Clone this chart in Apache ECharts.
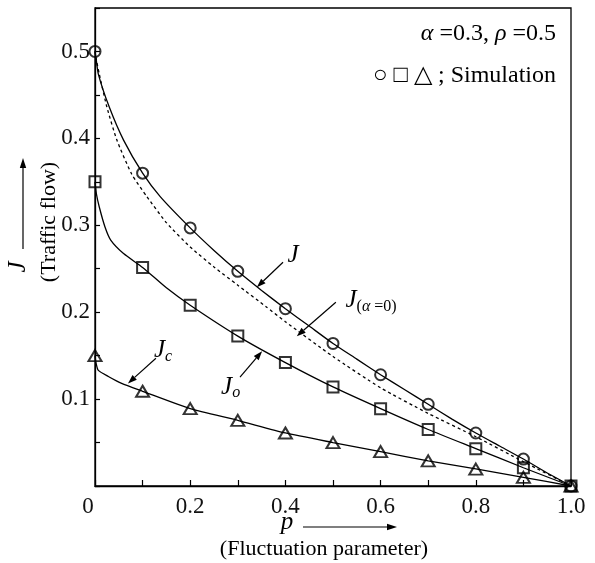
<!DOCTYPE html>
<html>
<head>
<meta charset="utf-8">
<script src="https://cdn.jsdelivr.net/npm/echarts@6/dist/echarts.min.js"></script>
<style>
html, body { margin: 0; padding: 0; background: #fff; }
#main { width: 595px; height: 563px; }
</style>
</head>
<body>
<div id="main"></div>
<script>
// simulation points
var pSim = [0, 0.1, 0.2, 0.3, 0.4, 0.5, 0.6, 0.7, 0.8, 0.9, 1.0];
var jSim = [0.5, 0.36, 0.297, 0.247, 0.204, 0.164, 0.128, 0.094, 0.061, 0.031, 0];
var joSim = [0.35, 0.2515, 0.208, 0.1725, 0.142, 0.114, 0.089, 0.065, 0.043, 0.021, 0];
var jcSim = [0.15, 0.109, 0.089, 0.0755, 0.061, 0.050, 0.0395, 0.029, 0.0195, 0.010, 0];

// theory curves
var jP = [0, 0.002, 0.007, 0.03, 0.06, 0.1, 0.137, 0.2, 0.25, 0.3, 0.35, 0.4, 0.45, 0.5, 0.55, 0.6, 0.65, 0.7, 0.75, 0.8, 0.85, 0.9, 0.95, 1];
var jLine = [0.5, 0.493, 0.474, 0.436, 0.398, 0.36, 0.333, 0.297, 0.271, 0.247, 0.225, 0.204, 0.184, 0.164, 0.146, 0.128, 0.111, 0.094, 0.077, 0.061, 0.046, 0.031, 0.015, 0];
var j0P = [0, 0.002, 0.009, 0.025, 0.046, 0.077, 0.109, 0.15, 0.2, 0.25, 0.3, 0.36, 0.4, 0.5, 0.6, 0.7, 0.8, 0.9, 1];
var j0Line = [0.5, 0.493, 0.474, 0.436, 0.398, 0.359, 0.333, 0.303, 0.275, 0.252, 0.231, 0.206, 0.189, 0.149, 0.113, 0.0835, 0.0567, 0.028, 0];
var joP = [0, 0.003, 0.009, 0.021, 0.033, 0.06, 0.1, 0.15, 0.2, 0.3, 0.4, 0.5, 0.6, 0.7, 0.8, 0.9, 1];
var joLine = [0.35, 0.336, 0.321, 0.298, 0.283, 0.2675, 0.2515, 0.228, 0.208, 0.1725, 0.142, 0.114, 0.089, 0.065, 0.043, 0.021, 0];
var jcP = [0, 0.002, 0.007, 0.028, 0.056, 0.1, 0.2, 0.3, 0.4, 0.5, 0.6, 0.7, 0.8, 0.9, 1];
var jcLine = [0.15, 0.142, 0.133, 0.126, 0.118, 0.109, 0.089, 0.0755, 0.061, 0.050, 0.0395, 0.029, 0.0198, 0.010, 0];

var FONT = '"Liberation Serif", "Times New Roman", serif';

function pairs(xs, ys) {
  var out = [];
  for (var i = 0; i < xs.length; i++) out.push([xs[i], ys[i]]);
  return out;
}

function lineSeries(xs, ys, dashed) {
  return {
    type: 'line',
    data: pairs(xs, ys),
    symbol: 'none',
    smooth: 0.2,
    clip: false,
    lineStyle: { color: '#000', width: 1.3, type: dashed ? [3, 3] : 'solid' },
    z: 2
  };
}

function simSeries(ys, symbol, size) {
  return {
    type: 'scatter',
    data: pairs(pSim, ys),
    symbol: symbol,
    symbolSize: size,
    clip: false,
    itemStyle: { color: 'rgba(0,0,0,0)', borderColor: '#000', borderWidth: 2 },
    z: 3
  };
}

var myChart = echarts.init(document.getElementById('main'));

var option = {
  backgroundColor: '#fff',
  animation: false,
  grid: {
    left: 95, right: 24, top: 8, bottom: 77,
    show: true, borderColor: '#000', borderWidth: 1.3, backgroundColor: 'transparent'
  },
  xAxis: {
    type: 'value', min: 0, max: 1, interval: 0.1,
    axisLine: { lineStyle: { color: '#000', width: 1.3 } },
    axisTick: { inside: true, length: 6, lineStyle: { color: '#000', width: 1.2 } },
    splitLine: { show: false },
    axisLabel: {
      margin: 9, color: '#111', fontFamily: FONT, fontSize: 23,
      formatter: function(v) {
        var k = Math.round(v * 10);
        if (k === 0) return '{z|0}';
        if (k % 2 !== 0) return '';
        return (k / 10).toFixed(1);
      },
      rich: { z: { fontFamily: FONT, fontSize: 23, color: '#111', padding: [0, 14, 0, 0] } }
    }
  },
  yAxis: {
    type: 'value', min: 0, max: 0.55, interval: 0.05,
    axisLine: { lineStyle: { color: '#000', width: 1.3 } },
    axisTick: { inside: true, length: 5, lineStyle: { color: '#000', width: 1.2 } },
    splitLine: { show: false },
    axisLabel: {
      margin: 5, color: '#111', fontFamily: FONT, fontSize: 23,
      formatter: function(v) {
        var k = Math.round(v * 100);
        if (k === 0 || k % 10 !== 0 || k > 50) return '';
        return (k / 100).toFixed(1);
      }
    }
  },
  series: [
    lineSeries(jP, jLine, false),
    lineSeries(j0P, j0Line, true),
    lineSeries(joP, joLine, false),
    lineSeries(jcP, jcLine, false),
    simSeries(jSim, 'circle', 11),
    simSeries(joSim, 'rect', 11),
    simSeries(jcSim, 'triangle', [13, 11])
  ]
};
myChart.setOption(option);

// annotations
function px(p, v) { return myChart.convertToPixel({ gridIndex: 0 }, [p, v]); }

function arrow(x1, y1, x2, y2, head) {
  var dx = x2 - x1, dy = y2 - y1;
  var len = Math.sqrt(dx * dx + dy * dy);
  var ux = dx / len, uy = dy / len;
  var hl = head || 9, hw = 3.2;
  var bx = x2 - ux * hl, by = y2 - uy * hl;
  return [
    { type: 'line', shape: { x1: x1, y1: y1, x2: bx, y2: by }, style: { stroke: '#000', lineWidth: 1.2 }, z: 10 },
    { type: 'polygon', shape: { points: [[x2, y2], [bx - uy * hw, by + ux * hw], [bx + uy * hw, by - ux * hw]] }, style: { fill: '#000' }, z: 10 }
  ];
}

function dataArrow(p1, v1, p2, v2) {
  var a = px(p1, v1), b = px(p2, v2);
  return arrow(a[0], a[1], b[0], b[1], 9);
}

function label(p, v, txt, size) {
  var a = px(p, v);
  return {
    type: 'text', x: a[0], y: a[1], z: 10,
    style: {
      text: txt, fill: '#000', font: 'italic ' + size + 'px ' + FONT,
      align: 'center', verticalAlign: 'middle',
      rich: {
        s: { font: 'italic 16px ' + FONT, fill: '#000', padding: [12, 0, 0, 0] },
        r: { font: '16px ' + FONT, fill: '#000', padding: [12, 0, 0, 0] }
      }
    }
  };
}

var g = [];
g = g.concat(dataArrow(0.395, 0.2575, 0.340, 0.2287));
g = g.concat(dataArrow(0.506, 0.2115, 0.424, 0.1724));
g = g.concat(dataArrow(0.3046, 0.1253, 0.351, 0.155));
g = g.concat(dataArrow(0.128, 0.147, 0.0693, 0.118));
g.push(label(0.416, 0.2655, 'J', 25));
g.push(label(0.580, 0.213, 'J{r|(}{s|α}{r| =0)}', 25));
g.push(label(0.285, 0.114, 'J{s|o}', 25));
g.push(label(0.143, 0.156, 'J{s|c}', 25));

// top right notes
g.push({
  type: 'text', x: 556, y: 34, z: 10,
  style: {
    text: '{i|α} =0.3, {i|ρ} =0.5', font: '24px ' + FONT, fill: '#000',
    align: 'right', verticalAlign: 'middle',
    rich: { i: { font: 'italic 24px ' + FONT, fill: '#000' } }
  }
});
g.push({
  type: 'text', x: 556, y: 76, z: 10,
  style: {
    text: '○ □ △ ; Simulation', font: '24px ' + FONT, fill: '#000',
    align: 'right', verticalAlign: 'middle'
  }
});

// axis titles
g.push({ type: 'text', x: 287, y: 522, style: { text: 'p', font: 'italic 25px ' + FONT, fill: '#000', align: 'center', verticalAlign: 'middle' } });
g = g.concat(arrow(303, 527, 397, 527, 10));
g.push({ type: 'text', x: 324, y: 549, style: { text: '(Fluctuation parameter)', font: '22px ' + FONT, fill: '#000', align: 'center', verticalAlign: 'middle' } });

g.push({ type: 'text', x: 18, y: 267, rotation: Math.PI / 2, style: { text: 'J', font: 'italic 25px ' + FONT, fill: '#000', align: 'center', verticalAlign: 'middle' } });
g = g.concat(arrow(23, 249, 23, 158, 10));
g.push({ type: 'text', x: 49, y: 222, rotation: Math.PI / 2, style: { text: '(Traffic flow)', font: '22px ' + FONT, fill: '#000', align: 'center', verticalAlign: 'middle' } });

myChart.setOption({ graphic: g });
</script>
</body>
</html>
